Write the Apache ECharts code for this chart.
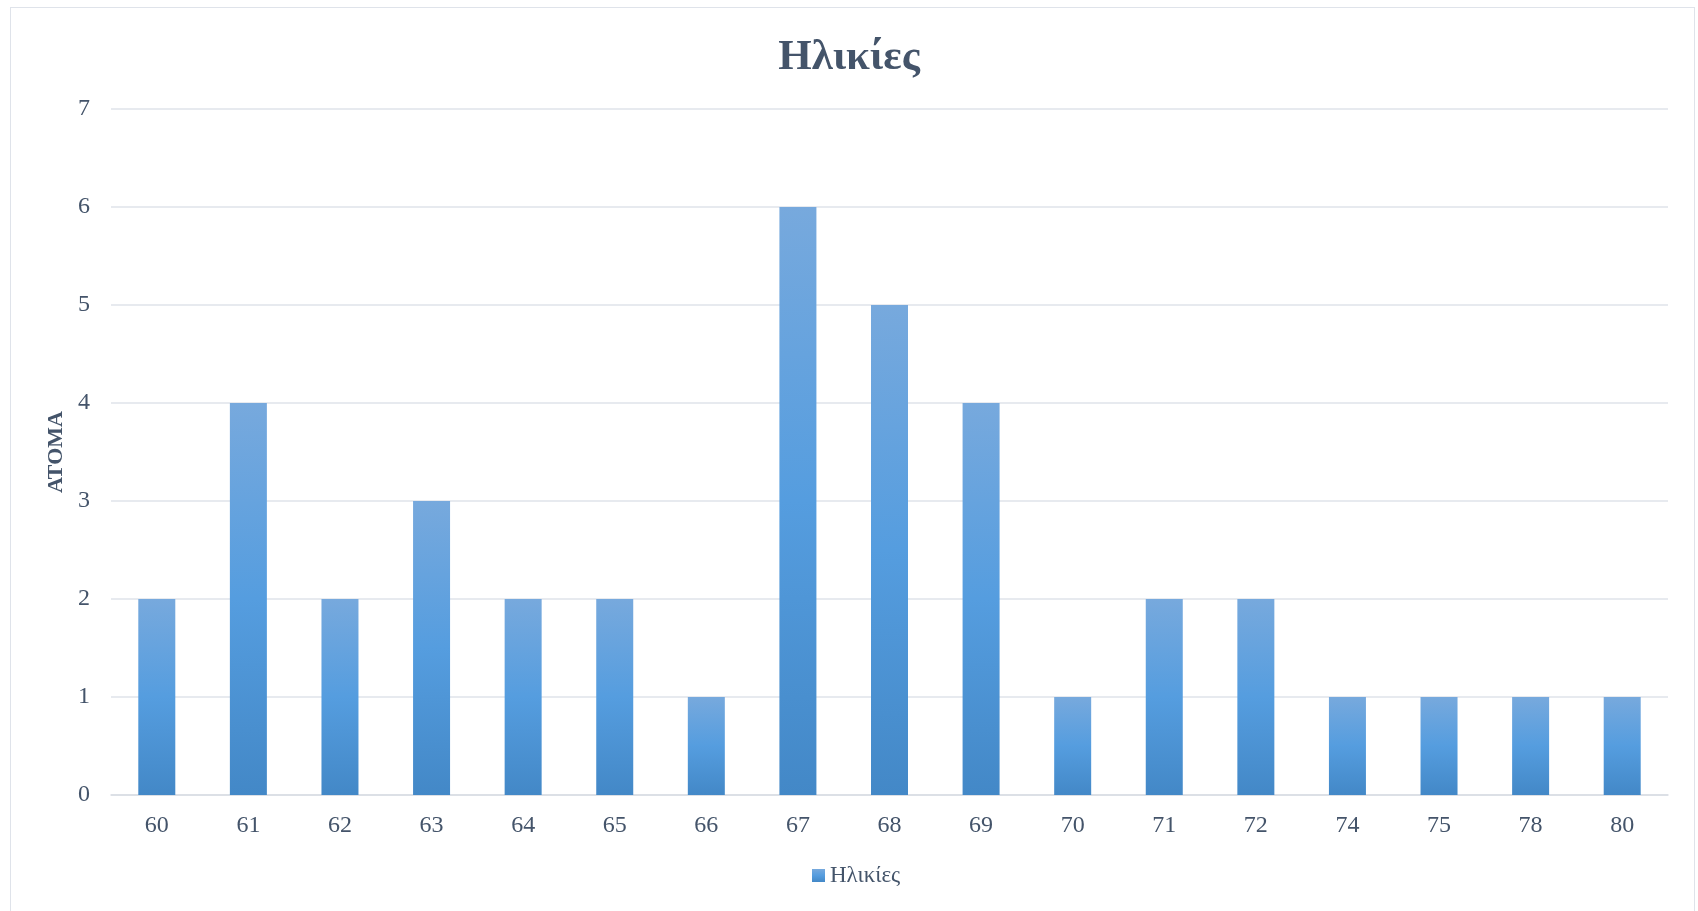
<!DOCTYPE html>
<html>
<head>
<meta charset="utf-8">
<style>
  html, body { margin: 0; padding: 0; background: #ffffff; }
  #frame { position: absolute; left: 10px; top: 7px; width: 1685px; height: 920px; border: 1.5px solid #dfe3ea; border-bottom: none; box-sizing: border-box; }
  #chart { position: absolute; left: 0; top: 0; width: 1698px; height: 911px; }
</style>
<script src="https://cdn.jsdelivr.net/npm/echarts@6/dist/echarts.min.js"></script>
</head>
<body>
<div id="frame"></div>
<div id="chart"></div>
<script>
// Age groups and number of persons per age
const ages = ['60', '61', '62', '63', '64', '65', '66', '67', '68', '69', '70', '71', '72', '74', '75', '78', '80'];
const persons = [2, 4, 2, 3, 2, 2, 1, 6, 5, 4, 1, 2, 2, 1, 1, 1, 1];
const yTicks = [0, 1, 2, 3, 4, 5, 6, 7];

const serif = '"Liberation Serif", "DejaVu Serif", serif';
const textColor = '#44546a';

const barFill = new echarts.graphic.LinearGradient(0, 0, 0, 1, [
  { offset: 0, color: '#77a9dd' },
  { offset: 0.5, color: '#559ddf' },
  { offset: 1, color: '#4388c7' }
]);

const chart = echarts.init(document.getElementById('chart'), null, { renderer: 'canvas' });
chart.setOption({
  animation: false,
  backgroundColor: 'transparent',
  title: {
    text: 'Ηλικίες',
    left: 'center',
    top: 31,
    textStyle: { fontFamily: serif, fontSize: 43, fontWeight: 'bold', color: textColor }
  },
  legend: {
    bottom: 19,
    left: 807,
    itemWidth: 13,
    itemHeight: 13,
    itemGap: 8,
    icon: 'rect',
    textStyle: { fontFamily: serif, fontSize: 23, color: textColor }
  },
  grid: { left: 111, right: 30, top: 109, bottom: 116, containLabel: false },
  xAxis: {
    type: 'category',
    data: ages,
    axisLine: { lineStyle: { color: '#d9dde4', width: 1.5 } },
    axisTick: { show: false },
    axisLabel: { fontFamily: serif, fontSize: 24, color: textColor, margin: 19 }
  },
  yAxis: {
    type: 'value',
    min: yTicks[0],
    max: yTicks[yTicks.length - 1],
    interval: 1,
    name: 'ΑΤΟΜΑ',
    nameLocation: 'middle',
    nameGap: 44,
    nameRotate: 90,
    nameTextStyle: { fontFamily: serif, fontSize: 22, fontWeight: 'bold', color: textColor },
    axisLine: { show: false },
    axisTick: { show: false },
    axisLabel: { fontFamily: serif, fontSize: 24, color: textColor, margin: 21 },
    splitLine: { lineStyle: { color: '#dfe3ea', width: 1.5 } }
  },
  series: [{
    name: 'Ηλικίες',
    type: 'bar',
    data: persons,
    barWidth: 37,
    itemStyle: { color: barFill }
  }]
});
</script>
</body>
</html>
